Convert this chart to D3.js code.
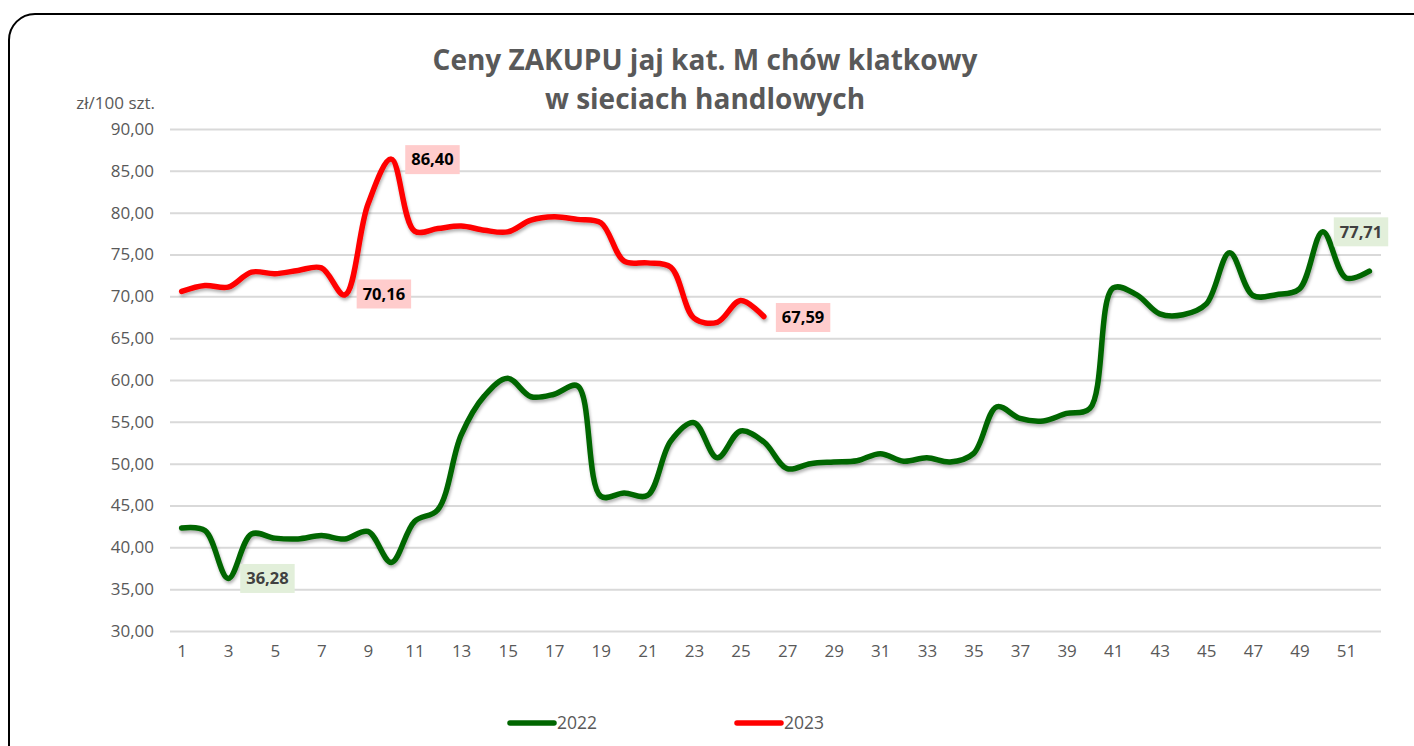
<!DOCTYPE html>
<html>
<head>
<meta charset="utf-8">
<script src="https://cdn.jsdelivr.net/npm/d3@7"></script>
<style>
  body { margin: 0; background: #fff; }
  text { font-family: "Open Sans", "Noto Sans", sans-serif; }
</style>
</head>
<body>
<script>
// weekly purchase prices, zł / 100 eggs
const weeks = d3.range(1, 53);
const tickWeeks = d3.range(1, 53, 2);
const yTicks = [30, 35, 40, 45, 50, 55, 60, 65, 70, 75, 80, 85, 90];

const prices2022 = [
  42.3, 42.0, 36.28, 41.6, 41.1, 41.0, 41.4, 41.0, 41.9, 38.2,
  43.1, 44.5, 53.4, 58.1, 60.2, 58.0, 58.3, 59.3, 46.1, 46.5,
  46.2, 52.7, 54.9, 50.7, 53.9, 52.6, 49.4, 50.0, 50.2, 50.35,
  51.2, 50.3, 50.7, 50.2, 51.2, 56.8, 55.4, 55.1, 56.0, 56.6,
  71.0, 70.2, 67.9, 67.8, 69.1, 75.2, 70.1, 70.2, 70.9, 77.71,
  72.2, 73.0
];
const prices2023 = [
  70.6, 71.3, 71.1, 72.9, 72.7, 73.1, 73.4, 70.16, 81.0, 86.40,
  77.8, 78.1, 78.4, 77.9, 77.7, 79.1, 79.5, 79.2, 78.8, 74.2,
  74.0, 73.5, 67.4, 66.9, 69.5, 67.59
];

// weeks that carry a value label
const labels2022 = [3, 50];
const labels2023 = [8, 10, 26];

const W = 1414, H = 746;
const svg = d3.select("body").append("svg")
    .attr("width", W)
    .attr("height", H);

const defs = svg.append("defs");
const shadow = defs.append("filter").attr("id", "shadow")
    .attr("x", "-5%").attr("y", "-5%").attr("width", "110%").attr("height", "120%");
shadow.append("feDropShadow")
    .attr("dx", 1).attr("dy", 2.5).attr("stdDeviation", 1.5)
    .attr("flood-color", "#000").attr("flood-opacity", 0.3);

// outer frame
svg.append("rect")
    .attr("x", 9).attr("y", 14)
    .attr("width", 1430).attr("height", 760)
    .attr("rx", 26)
    .attr("fill", "#fff")
    .attr("stroke", "#000")
    .attr("stroke-width", 2);

const x = d3.scalePoint().domain(weeks).range([170, 1381]).padding(0.5);
const y = d3.scaleLinear().domain([30, 90]).range([631, 129]);

// title
svg.append("text")
    .attr("x", 705).attr("y", 70)
    .attr("text-anchor", "middle")
    .attr("font-size", 28).attr("font-weight", "bold").attr("fill", "#595959")
    .text("Ceny ZAKUPU jaj kat. M chów klatkowy");
svg.append("text")
    .attr("x", 705).attr("y", 109)
    .attr("text-anchor", "middle")
    .attr("font-size", 28).attr("font-weight", "bold").attr("fill", "#595959")
    .text("w sieciach handlowych");

// unit label
svg.append("text")
    .attr("x", 155).attr("y", 109)
    .attr("text-anchor", "end")
    .attr("font-size", 17).attr("fill", "#595959")
    .text("zł/100 szt.");

// gridlines + y axis
const fmt = d => d3.format(".2f")(d).replace(".", ",");
const yAxis = svg.append("g")
    .attr("transform", "translate(170,0)")
    .call(d3.axisLeft(y).tickValues(yTicks).tickSize(-1211).tickPadding(16).tickFormat(fmt));
yAxis.select(".domain").remove();
yAxis.selectAll(".tick line").attr("stroke", "#d9d9d9").attr("stroke-width", 2);
yAxis.selectAll(".tick text")
    .attr("font-size", 17).attr("fill", "#595959")
    .style("font-family", "'Open Sans', sans-serif");

// x axis
const xAxis = svg.append("g")
    .attr("transform", "translate(0,631)")
    .call(d3.axisBottom(x).tickValues(tickWeeks).tickSize(0).tickPadding(14));
xAxis.select(".domain").remove();
xAxis.selectAll(".tick text")
    .attr("font-size", 17).attr("fill", "#595959")
    .style("font-family", "'Open Sans', sans-serif");

const line = d3.line()
    .x((d, i) => x(weeks[i]))
    .y(d => y(d))
    .curve(d3.curveCatmullRom.alpha(0.5));

svg.append("path")
    .datum(prices2022)
    .attr("d", line)
    .attr("fill", "none")
    .attr("stroke", "#006600")
    .attr("stroke-width", 5.5)
    .attr("stroke-linejoin", "round")
    .attr("stroke-linecap", "round")
    .attr("filter", "url(#shadow)");

svg.append("path")
    .datum(prices2023)
    .attr("d", line)
    .attr("fill", "none")
    .attr("stroke", "#ff0000")
    .attr("stroke-width", 5.5)
    .attr("stroke-linejoin", "round")
    .attr("stroke-linecap", "round")
    .attr("filter", "url(#shadow)");

// data labels: box to the right of the point
function dataLabel(week, value, dx, dy, bg, fg) {
  const g = svg.append("g")
      .attr("transform", `translate(${x(week) + dx},${y(value) + dy})`);
  const t = g.append("text")
      .attr("x", 6).attr("y", 0)
      .attr("dy", "0.35em")
      .attr("font-size", 16.5).attr("font-weight", "bold").attr("fill", fg)
      .text(fmt(value));
  const bb = t.node().getBBox();
  g.insert("rect", "text")
      .attr("x", 0).attr("y", -14.5)
      .attr("width", bb.width + 12).attr("height", 29)
      .attr("fill", bg);
}
const offs2023 = { 8: [12, -1], 10: [14, 0.5], 26: [12, 1] };
const offs2022 = { 3: [12, 0], 50: [11, 0] };
labels2023.forEach(w => dataLabel(w, prices2023[w - 1], offs2023[w][0], offs2023[w][1], "#ffcccc", "#000"));
labels2022.forEach(w => dataLabel(w, prices2022[w - 1], offs2022[w][0], offs2022[w][1], "#e2efda", "#404040"));

// legend
const legend = [
  { name: "2022", color: "#006600", x: 510 },
  { name: "2023", color: "#ff0000", x: 737 }
];
legend.forEach(l => {
  svg.append("line")
      .attr("x1", l.x).attr("x2", l.x + 44)
      .attr("y1", 723).attr("y2", 723)
      .attr("stroke", l.color)
      .attr("stroke-width", 5.5)
      .attr("stroke-linecap", "round");
  svg.append("text")
      .attr("x", l.x + 47).attr("y", 729)
      .attr("font-size", 17.5).attr("fill", "#595959")
      .text(l.name);
});
</script>
</body>
</html>
